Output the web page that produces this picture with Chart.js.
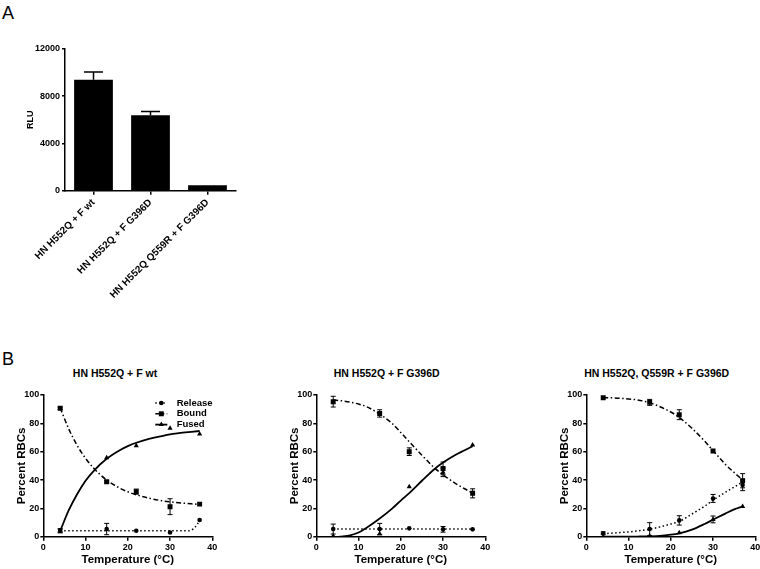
<!DOCTYPE html>
<html>
<head>
<meta charset="utf-8">
<script src="https://cdn.jsdelivr.net/npm/chart.js@4.4.0/dist/chart.umd.min.js"></script>
<style>
  body { margin: 0; background: #fff; width: 760px; height: 569px; overflow: hidden; position: relative;
         font-family: 'Liberation Sans', Arial, sans-serif; color: #000; }
  .box { position: absolute; }
  .letter { position: absolute; font-size: 18px; line-height: 1; }
  .ptitle { position: absolute; width: 220px; text-align: center; font-size: 10.5px; font-weight: bold; line-height: 13px; }
</style>
</head>
<body>
<div class="letter" style="left:2px;top:4px">A</div>
<div class="letter" style="left:2px;top:350px">B</div>

<div class="box" style="left:0;top:0;width:250px;height:330px"><canvas id="chartA"></canvas></div>

<div class="ptitle" style="left:5px;top:366.5px">HN H552Q + F wt</div>
<div class="ptitle" style="left:276.7px;top:366.5px">HN H552Q + F G396D</div>
<div class="ptitle" style="left:546.7px;top:366.5px">HN H552Q, Q559R + F G396D</div>

<div class="box" style="left:0;top:340px;width:217px;height:229px"><canvas id="chartB1"></canvas></div>
<div class="box" style="left:273.4px;top:340px;width:217px;height:229px"><canvas id="chartB2"></canvas></div>
<div class="box" style="left:542.7px;top:340px;width:217px;height:229px"><canvas id="chartB3"></canvas></div>

<script>
// ---- Panel A: luciferase (RLU) ----
const barLabels = ['HN H552Q + F wt', 'HN H552Q + F G396D', 'HN H552Q Q559R + F G396D'];
const rluValues = [9400, 6380, 470];
const rluErrors = [650, 320, 0];
const rluTicks = [0, 4000, 8000, 12000];

// ---- Panel B: temperature series ----
const temps = [4, 15, 22, 30, 37];
const tempTicks = [0, 10, 20, 30, 40];
const pctTicks = [0, 20, 40, 60, 80, 100];
const legendNames = ['Release', 'Bound', 'Fused'];

// HN H552Q + F wt
const release1 = [4.2, 5.4, 4.2, 3.0, 11.8];
const release1Err = [1, 4, 0, 0, 0];
const bound1 = [90.6, 38.8, 31.8, 21.2, 23];
const bound1Err = [0.8, 0.8, 1.8, 5.6, 0];
const fused1 = [4.2, 55.8, 64.2, 76.5, 72.5];
const fused1Err = [1.5, 0, 0, 0, 0];

// HN H552Q + F G396D
const release2 = [5.4, 5.4, 5.9, 5.2, 5.2];
const release2Err = [3.5, 4, 0, 2, 0];
const bound2 = [95.3, 87, 60, 48.2, 30.6];
const bound2Err = [3.8, 2.6, 2.7, 4.5, 3.2];
const fused2 = [0.5, 2, 35.3, 45.4, 64.7];
const fused2Err = [0, 0, 0, 3, 0];

// HN H552Q, Q559R + F G396D
const release3 = [2.4, 5.4, 11.5, 27, 36.5];
const release3Err = [1, 4.5, 3.3, 2.8, 4];
const bound3 = [98.1, 94.8, 86.1, 60.5, 39.5];
const bound3Err = [0, 2.1, 3.5, 0, 5];
const fused3 = [0, 0.5, 2.8, 12.2, 21.4];
const fused3Err = [0, 0, 0, 2.4, 0];

// fitted curves
const fitX = [4, 6, 8, 10, 12, 15, 18, 20, 22, 25, 28, 30, 33, 35, 37];
const fused1Fit = [4, 18.5, 30, 39.5, 46.7, 55, 60.9, 63.9, 66.3, 69, 71, 72.2, 73.4, 74, 74.6];
const bound1Fit = [91, 76.2, 64.5, 55.3, 48.1, 40, 34.4, 31.7, 29.6, 27.2, 25.4, 24.6, 23.7, 23.2, 22.8];
const release1FitX = [4, 10, 20, 30, 34.5, 35.5, 36.5, 37];
const release1Fit = [4.2, 4.2, 4.2, 4.2, 4.2, 5.5, 9, 12];

const fused2FitX = [5.5, 8, 10, 12, 15, 18, 20, 22, 25, 28, 30, 33, 35, 37];
const fused2Fit = [0, 1, 3, 6.5, 12.8, 20, 25.5, 30.8, 39.5, 47.8, 52.3, 57.8, 60.8, 63.8];
const bound2Fit = [96.5, 95.9, 95, 93.6, 91.6, 86.5, 79.8, 73.5, 67, 57.5, 48.5, 43.7, 37.5, 34, 30.8];
const release2FitX = [4, 37];
const release2Fit = [5.4, 5.4];

const fused3Fit = [0, 0, 0, 0, 0.1, 0.3, 0.8, 1.4, 2.4, 5, 9, 12, 16.5, 19.3, 21.4];
const bound3Fit = [98.2, 98, 97.7, 97.2, 96.6, 94.5, 91, 88, 84.2, 76.5, 67.5, 60.8, 50.8, 45.3, 40];
const release3Fit = [2.2, 2.5, 2.9, 3.4, 4, 5.3, 7.3, 9, 10.8, 16, 21.5, 25.8, 31.5, 35, 38.6];

Chart.defaults.font.family = "'Liberation Sans', Arial, sans-serif";
Chart.defaults.font.weight = 'bold';
Chart.defaults.color = '#000';

const pts = (xs, ys) => xs.map((x, i) => ({ x: x, y: ys[i] }));

// error bars drawn from dataset.errors through the y scale
const errorBars = {
    id: 'errorBars',
    afterDatasetsDraw(chart) {
        const ctx = chart.ctx;
        const yScale = chart.scales.y;
        chart.data.datasets.forEach((ds, di) => {
            if (!ds.errors) return;
            const meta = chart.getDatasetMeta(di);
            ctx.save();
            ctx.strokeStyle = '#000';
            ctx.lineWidth = ds.errLineWidth || 1;
            meta.data.forEach((el, i) => {
                const e = ds.errors[i];
                if (!e) return;
                const v = typeof ds.data[i] === 'object' ? ds.data[i].y : ds.data[i];
                const x = el.x;
                const yTop = yScale.getPixelForValue(v + e);
                const yBot = ds.upOnly ? el.y : yScale.getPixelForValue(v - e);
                const half = ds.capWidth / 2;
                ctx.beginPath();
                ctx.moveTo(x, yTop); ctx.lineTo(x, yBot);
                ctx.moveTo(x - half, yTop); ctx.lineTo(x + half, yTop);
                if (!ds.upOnly) { ctx.moveTo(x - half, yBot); ctx.lineTo(x + half, yBot); }
                ctx.stroke();
            });
            ctx.restore();
        });
    }
};

// legend inside the first temperature panel
const insideLegend = {
    id: 'insideLegend',
    afterDraw(chart, args, opts) {
        if (!opts.show) return;
        const ctx = chart.ctx;
        const area = chart.chartArea;
        const sets = chart.data.datasets;
        legendNames.forEach((name, i) => {
            const markerSet = sets[i];
            const lineSet = sets[i + 3];
            const y = area.top + 8 + i * 10.8;
            const x0 = area.left + 112;
            ctx.save();
            ctx.strokeStyle = '#000';
            ctx.lineWidth = lineSet.borderWidth;
            ctx.setLineDash(lineSet.borderDash || []);
            ctx.beginPath();
            ctx.moveTo(x0, y); ctx.lineTo(x0 + 12, y);
            ctx.stroke();
            ctx.setLineDash([]);
            ctx.fillStyle = '#000';
            Chart.helpers.drawPoint(ctx, {
                pointStyle: markerSet.pointStyle, radius: markerSet.pointRadius, rotation: 0, borderWidth: 0
            }, x0 + 6, y);
            ctx.font = "bold 9.5px 'Liberation Sans', Arial, sans-serif";
            ctx.textBaseline = 'middle';
            ctx.textAlign = 'left';
            ctx.fillText(name, area.left + 133.4, y);
            ctx.restore();
        });
    }
};

function axisStyle(tickLength) {
    return {
        grid: { display: true, drawOnChartArea: false, drawTicks: true, tickLength: tickLength, color: '#000', lineWidth: 1.5, offset: false },
        border: { display: true, color: '#000', width: 1.5 }
    };
}

// ---- Panel A chart ----
new Chart(document.getElementById('chartA'), {
    type: 'bar',
    data: {
        labels: barLabels,
        datasets: [{
            data: rluValues,
            backgroundColor: '#000',
            borderWidth: 0,
            categoryPercentage: 1,
            barPercentage: 0.68,
            errors: rluErrors,
            upOnly: true,
            capWidth: 19,
            errLineWidth: 1.5
        }]
    },
    options: {
        responsive: true,
        maintainAspectRatio: false,
        animation: false,
        layout: { padding: { top: 49, right: 14, bottom: 0, left: 0 } },
        plugins: { legend: { display: false }, tooltip: { enabled: false } },
        scales: {
            x: {
                ...axisStyle(4),
                ticks: { font: { size: 10, weight: 'bold' }, minRotation: 45, maxRotation: 45, autoSkip: false, padding: 2 },
                afterFit: s => { s.height = 139.3; s.paddingLeft = 0; s.paddingRight = 0; }
            },
            y: {
                ...axisStyle(3),
                min: 0,
                max: 12000,
                afterBuildTicks: s => { s.ticks = rluTicks.map(v => ({ value: v })); },
                ticks: { font: { size: 9, weight: 'bold' }, padding: 2, callback: v => String(v) },
                title: { display: true, text: 'RLU', font: { size: 9, weight: 'bold' }, padding: { top: 25.5, bottom: 0 } },
                afterFit: s => { s.width = 65; s.paddingTop = 0; s.paddingBottom = 0; }
            }
        }
    },
    plugins: [errorBars]
});

// ---- Panel B charts ----
function markerSet(label, ys, errs, style, radius) {
    return {
        label: label, data: pts(temps, ys), showLine: false,
        pointStyle: style, pointRadius: radius, pointBackgroundColor: '#000', pointBorderWidth: 0,
        borderColor: '#000', backgroundColor: '#000',
        errors: errs, capWidth: 5, errLineWidth: 1
    };
}
function fitSet(label, xs, ys, dash, width) {
    return {
        label: label, data: pts(xs, ys), showLine: true, pointRadius: 0,
        borderColor: '#000', borderWidth: width, borderDash: dash,
        cubicInterpolationMode: 'monotone', fill: false
    };
}

const dotDash = [1.5, 2.5];
const dashDot = [5, 2.5, 1.5, 2.5];

function makePanel(id, sets, showLegend) {
    new Chart(document.getElementById(id), {
        type: 'scatter',
        data: { datasets: sets },
        options: {
            responsive: true,
            maintainAspectRatio: false,
            animation: false,
            layout: { padding: { top: 55, right: 4.7, bottom: 0, left: 0 } },
            plugins: { legend: { display: false }, tooltip: { enabled: false }, insideLegend: { show: showLegend } },
            scales: {
                x: {
                    ...axisStyle(4),
                    type: 'linear', min: 0, max: 40,
                    afterBuildTicks: s => { s.ticks = tempTicks.map(v => ({ value: v })); },
                    ticks: { font: { size: 9, weight: 'bold' }, padding: 1 },
                    title: { display: true, text: 'Temperature (°C)', font: { size: 11.5, weight: 'bold' }, padding: { top: 0, bottom: 2 } },
                    afterFit: s => { s.height = 32.3; s.paddingLeft = 0; s.paddingRight = 0; }
                },
                y: {
                    ...axisStyle(3),
                    type: 'linear', min: 0, max: 100,
                    afterBuildTicks: s => { s.ticks = pctTicks.map(v => ({ value: v })); },
                    ticks: { font: { size: 9, weight: 'bold' }, padding: 1 },
                    title: { display: true, text: 'Percent RBCs', font: { size: 11.5, weight: 'bold' }, padding: { top: 14.7, bottom: 0 } },
                    afterFit: s => { s.width = 43.3; s.paddingTop = 0; s.paddingBottom = 0; }
                }
            }
        },
        plugins: [errorBars, insideLegend]
    });
}

makePanel('chartB1', [
    markerSet('Release', release1, release1Err, 'circle', 2.3),
    markerSet('Bound', bound1, bound1Err, 'rect', 3.5),
    markerSet('Fused', fused1, fused1Err, 'triangle', 3),
    fitSet('Release fit', release1FitX, release1Fit, dotDash, 1.5),
    fitSet('Bound fit', fitX, bound1Fit, dashDot, 1.5),
    fitSet('Fused fit', fitX, fused1Fit, [], 1.8)
], true);

makePanel('chartB2', [
    markerSet('Release', release2, release2Err, 'circle', 2.3),
    markerSet('Bound', bound2, bound2Err, 'rect', 3.5),
    markerSet('Fused', fused2, fused2Err, 'triangle', 3),
    fitSet('Release fit', release2FitX, release2Fit, dotDash, 1.5),
    fitSet('Bound fit', fitX, bound2Fit, dashDot, 1.5),
    fitSet('Fused fit', fused2FitX, fused2Fit, [], 1.8)
], false);

makePanel('chartB3', [
    markerSet('Release', release3, release3Err, 'circle', 2.3),
    markerSet('Bound', bound3, bound3Err, 'rect', 3.5),
    markerSet('Fused', fused3, fused3Err, 'triangle', 3),
    fitSet('Release fit', fitX, release3Fit, dotDash, 1.5),
    fitSet('Bound fit', fitX, bound3Fit, dashDot, 1.5),
    fitSet('Fused fit', fitX, fused3Fit, [], 1.8)
], false);
</script>
</body>
</html>
